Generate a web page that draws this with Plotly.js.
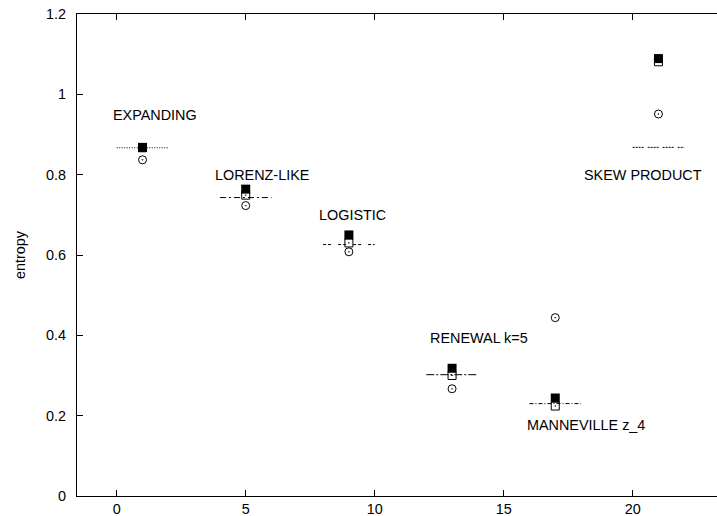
<!DOCTYPE html>
<html>
<head>
<meta charset="utf-8">
<script src="https://cdn.plot.ly/plotly-3.0.1.min.js"></script>
<style>html,body{margin:0;padding:0;background:#fff;}#chart{width:717px;height:516px;}</style>
</head>
<body>
<div id="chart"></div>
<script>
// Data
const systems = ["EXPANDING", "LORENZ-LIKE", "LOGISTIC", "RENEWAL k=5", "MANNEVILLE z_4", "SKEW PRODUCT"];
const xPos = [1, 5, 9, 13, 17, 21];
const filledSquare = [0.868, 0.764, 0.650, 0.318, 0.244, 1.089];
const openSquare = [0.867, 0.749, 0.630, 0.300, 0.224, 1.081];
const openCircle = [0.837, 0.723, 0.608, 0.267, 0.444, 0.951];
const refValue = [0.867, 0.743, 0.626, 0.302, 0.230, 0.868];
const refStart = [0, 4, 8, 12, 16, 20];
const refEnd = [2, 6, 10, 14, 18, 22];
const yTicks = [0, 0.2, 0.4, 0.6, 0.8, 1, 1.2];
const xTicks = [0, 5, 10, 15, 20];

// label placement (annotation anchor, data coords)
const labelX = [1.48, 5.65, 9.14, 14.04, 18.2, 20.4];
const labelY = [0.949, 0.799, 0.700, 0.393, 0.176, 0.799];

const dashStyles = ["1px,1.5px", "6px,3px,2px,3px", "3px,2px,3px,7px", "8px,2px,2px,2px", "4px,2px,1px,2px", "2px,1px,2px,1px,2px,1px,2px,4px"];

const FONT = "Liberation Sans, Arial, Helvetica, sans-serif";
const traces = [];
for (let i = 0; i < systems.length; i++) {
  traces.push({
    type: "scatter", mode: "lines",
    x: [refStart[i], refEnd[i]], y: [refValue[i], refValue[i]],
    line: {color: "#000", width: 1, dash: dashStyles[i]},
    showlegend: false, hoverinfo: "skip"
  });
}
traces.push({
  type: "scatter", mode: "markers", x: xPos, y: filledSquare,
  marker: {symbol: "square", size: 9, color: "#000", line: {width: 0}},
  showlegend: false
});
traces.push({
  type: "scatter", mode: "markers", x: xPos, y: openSquare,
  marker: {symbol: "square-open-dot", size: 8, color: "#000", line: {width: 1, color: "#000"}},
  showlegend: false
});
traces.push({
  type: "scatter", mode: "markers", x: xPos, y: openCircle,
  marker: {symbol: "circle-open-dot", size: 8, color: "#000", line: {width: 1, color: "#000"}},
  showlegend: false
});

const annotations = systems.map((s, i) => ({
  x: labelX[i], y: labelY[i], xref: "x", yref: "y",
  text: s, showarrow: false, xanchor: "center", yanchor: "middle",
  font: {family: FONT, size: 14.4, color: "#000"}
}));

const layout = {
  width: 717, height: 516,
  margin: {l: 77, r: 0, t: 14, b: 20, pad: 0},
  paper_bgcolor: "#fff", plot_bgcolor: "#fff",
  font: {family: FONT, size: 14.4, color: "#000"},
  xaxis: {
    range: [-1.54, 23.27], tickvals: xTicks, ticktext: xTicks.map(String),
    ticks: "inside", ticklen: 6, tickwidth: 1, tickcolor: "#000",
    showline: true, linecolor: "#000", linewidth: 1, mirror: "ticks",
    showgrid: false, zeroline: false, automargin: false,
    tickfont: {family: FONT, size: 14.4, color: "#000"}
  },
  yaxis: {
    range: [0, 1.2], tickvals: yTicks, ticktext: yTicks.map(String),
    ticks: "inside", ticklen: 6, tickwidth: 1, tickcolor: "#000",
    showline: true, linecolor: "#000", linewidth: 1, mirror: false,
    showgrid: false, zeroline: false, automargin: true,
    ticklabelstandoff: 7,
    tickfont: {family: FONT, size: 14.4, color: "#000"},
    title: {text: "entropy", standoff: 17, font: {family: FONT, size: 14.4, color: "#000"}}
  },
  annotations: annotations,
  showlegend: false
};

Plotly.newPlot("chart", traces, layout, {staticPlot: true, displayModeBar: false});
</script>
</body>
</html>
